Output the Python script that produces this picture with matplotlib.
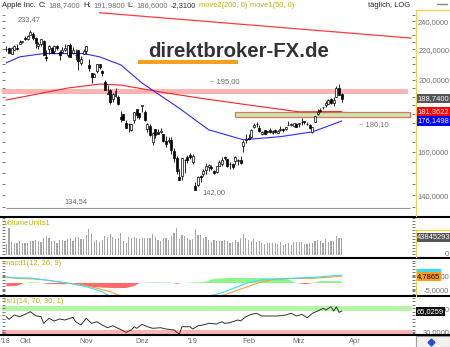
import numpy as np
import matplotlib
matplotlib.use('Agg')
import matplotlib.pyplot as plt
from matplotlib.lines import Line2D
from matplotlib.patches import Rectangle
from matplotlib.ticker import FixedLocator, NullFormatter, FuncFormatter

plt.rcParams['font.family'] = ['Liberation Sans', 'DejaVu Sans']

# daily bars, 20.09.2018 .. 25.03.2019
opens = [220.24, 220.78, 216.82, 219.75, 221.00, 223.82, 224.79, 227.95, 227.25, 230.05,
         230.78, 227.96, 222.21, 223.64, 225.46, 214.52, 220.42, 221.16, 218.93, 222.30,
         217.86, 218.06, 219.79, 215.83, 222.60, 217.71, 215.90, 219.19, 211.15, 216.88,
         219.05, 209.55, 204.30, 201.92, 205.97, 209.98, 205.55, 199.00, 191.63, 193.90,
         188.39, 190.50, 190.00, 178.37, 179.73, 174.94, 174.24, 171.51, 176.73, 182.66,
         180.29, 184.46, 180.95, 171.76, 173.49, 165.00, 171.66, 170.40, 170.49, 169.00,
         165.45, 165.38, 166.00, 160.40, 156.86, 148.15, 148.30, 155.84, 157.50, 158.53,
         154.89, 143.98, 144.53, 148.70, 149.56, 151.29, 152.50, 152.88, 150.85, 150.27,
         153.08, 154.20, 157.50, 156.41, 154.15, 154.11, 155.48, 155.79, 156.25, 163.25,
         166.11, 166.96, 167.41, 172.86, 174.65, 172.40, 168.99, 171.05, 170.10, 171.39,
         169.71, 171.25, 169.71, 171.19, 171.80, 171.58, 174.16, 173.71, 173.21, 174.32,
         174.28, 175.69, 175.94, 174.67, 173.87, 170.32, 175.49, 180.00, 182.25, 183.90,
         184.85, 185.80, 188.35, 186.23, 190.02, 195.34, 191.51]
highs = [222.28, 221.36, 221.26, 222.82, 223.75, 226.44, 225.84, 229.42, 230.00, 233.47,
         232.35, 228.41, 224.80, 227.27, 226.35, 219.50, 222.88, 221.83, 222.99, 222.64,
         219.74, 221.26, 223.36, 223.25, 224.23, 221.38, 220.19, 219.69, 215.18, 220.45,
         222.36, 213.65, 204.39, 204.72, 210.06, 210.12, 206.01, 199.85, 197.18, 194.48,
         191.97, 194.97, 190.70, 181.47, 180.27, 176.60, 174.95, 174.77, 181.29, 182.80,
         180.33, 184.94, 182.39, 174.78, 174.49, 170.09, 171.79, 171.92, 172.57, 169.08,
         168.35, 167.53, 167.45, 162.11, 158.16, 151.55, 157.23, 156.77, 158.52, 159.36,
         158.85, 145.72, 148.55, 148.83, 151.82, 154.53, 153.97, 153.70, 151.27, 153.39,
         155.88, 157.66, 157.88, 156.73, 155.14, 154.48, 158.13, 156.33, 158.13, 166.15,
         169.00, 168.98, 171.66, 175.08, 175.57, 173.94, 170.66, 171.21, 171.00, 172.48,
         171.26, 171.70, 171.44, 173.32, 172.37, 173.00, 175.87, 175.30, 175.00, 174.91,
         175.15, 177.75, 176.00, 175.49, 174.44, 173.07, 179.12, 182.67, 183.30, 184.10,
         187.33, 188.39, 188.99, 189.49, 196.33, 197.69, 191.98]
lows = [219.15, 217.29, 216.63, 219.70, 219.76, 223.54, 224.02, 226.35, 226.63, 229.78,
        226.73, 220.58, 220.20, 222.25, 216.05, 212.32, 216.84, 217.27, 216.76, 219.34,
        213.00, 217.43, 218.94, 214.70, 214.54, 216.75, 212.67, 206.09, 209.27, 216.62,
        216.81, 205.43, 198.17, 201.69, 204.13, 206.75, 202.25, 193.79, 191.45, 185.93,
        186.90, 189.46, 184.99, 175.51, 176.55, 172.10, 170.26, 170.88, 174.93, 177.70,
        177.03, 181.21, 176.27, 170.42, 168.30, 163.33, 167.00, 169.02, 169.55, 165.28,
        162.73, 164.39, 159.09, 155.30, 149.63, 146.59, 146.72, 150.07, 154.55, 156.48,
        154.23, 142.00, 143.80, 145.90, 148.52, 149.63, 150.86, 151.51, 149.22, 150.05,
        153.00, 153.26, 155.98, 152.62, 151.70, 151.74, 154.32, 153.66, 154.11, 160.23,
        164.56, 165.93, 167.28, 172.35, 172.85, 170.34, 168.42, 169.25, 169.70, 169.92,
        169.38, 169.75, 169.49, 170.99, 170.30, 171.38, 173.95, 173.17, 172.73, 172.92,
        172.89, 173.97, 174.54, 173.94, 172.02, 169.50, 175.35, 179.37, 180.92, 182.56,
        183.74, 185.79, 185.92, 184.73, 189.81, 190.78, 186.60]
closes = [220.03, 217.66, 220.79, 222.19, 220.42, 224.95, 225.74, 227.26, 229.28, 232.07,
          227.99, 224.29, 223.77, 226.87, 216.36, 214.45, 222.11, 217.36, 222.15, 221.19,
          216.02, 219.31, 220.65, 222.73, 215.09, 219.80, 216.30, 212.24, 213.30, 218.86,
          222.22, 207.48, 201.59, 203.77, 209.95, 208.49, 204.47, 194.17, 192.23, 186.80,
          191.41, 193.53, 185.86, 176.98, 176.78, 172.29, 174.62, 174.24, 180.94, 179.55,
          178.58, 184.82, 176.69, 174.72, 168.49, 169.60, 168.63, 169.10, 170.95, 165.48,
          163.94, 166.07, 160.89, 156.83, 150.73, 146.83, 157.17, 156.15, 156.23, 157.74,
          157.92, 142.19, 148.26, 147.93, 150.75, 153.31, 153.80, 152.29, 150.00, 153.07,
          154.94, 155.86, 156.82, 153.30, 153.92, 152.70, 157.76, 156.30, 154.68, 165.25,
          166.44, 166.52, 171.25, 174.18, 174.24, 170.94, 170.41, 169.43, 170.89, 170.18,
          170.80, 170.42, 170.93, 172.03, 171.06, 172.97, 174.23, 174.33, 174.87, 173.15,
          174.97, 175.85, 175.53, 174.52, 172.50, 172.91, 178.90, 180.91, 181.71, 183.73,
          186.12, 188.02, 186.53, 188.16, 195.09, 191.05, 188.74]
# volume in millions of shares
volumes = [20.3, 96.2, 27.7, 24.6, 23.9, 30.2, 22.9, 23.6, 24.8, 28.6,
           32.0, 33.6, 29.7, 26.9, 41.1, 53.1, 40.3, 30.3, 29.2, 22.9,
           32.6, 33.0, 28.8, 38.7, 40.9, 29.9, 47.3, 45.9, 36.7, 38.4,
           58.3, 91.3, 66.2, 31.9, 33.4, 25.4, 34.4, 51.1, 46.9, 60.8,
           46.5, 36.2, 41.9, 67.8, 31.1, 23.6, 44.9, 41.4, 46.1, 41.8,
           39.5, 40.8, 41.3, 43.1, 42.3, 62.0, 47.3, 35.6, 31.9, 40.7,
           44.3, 33.8, 49.0, 64.8, 95.7, 37.2, 58.6, 53.1, 42.3, 35.0,
           37.0, 91.3, 58.6, 54.8, 41.0, 45.1, 35.8, 27.0, 32.4, 28.7,
           30.6, 29.8, 33.1, 30.4, 23.1, 25.4, 33.5, 26.2, 41.6, 61.1,
           40.7, 32.7, 31.5, 36.1, 28.2, 31.7, 23.8, 20.5, 22.3, 22.5,
           21.8, 24.6, 19.0, 26.1, 17.2, 18.9, 21.9, 17.1, 27.8, 28.2,
           25.9, 27.4, 19.7, 20.8, 24.8, 23.9, 32.0, 32.5, 31.0, 23.6,
           39.0, 26.2, 31.6, 31.0, 51.0, 42.4, 43.845293]

# moving averages (bar index, value)
ma200_idx = [0, 10, 23, 35, 43, 58, 73, 92, 110, 126]
ma200_val = [188.0, 191.0, 195.1, 197.5, 196.9, 192.7, 189.0, 184.9, 181.2, 181.3622]
ma50_idx = [0, 5, 14, 29, 35, 43, 51, 65, 76, 89, 103, 115, 122, 126]
ma50_val = [211.0, 214.9, 217.1, 217.1, 214.9, 209.6, 198.1, 183.2, 171.4, 166.2,
            167.8, 170.3, 174.0, 176.1498]

# drawn objects
trend_idx = [35, 152]
trend_val = [246.4, 227.8]
resist_band = (191.8, 194.6)
support_band = (178.5, 181.3)
support_start = 86
low_line = 134.54

# macd1(12, 26, 9)
macd_idx = [0, 9, 23, 30, 36, 38, 45, 55, 65, 72, 79, 82, 87, 92, 97, 107, 115, 126]
macd_val = [3.8, 3.6, 0.0, -2.6, -6.2, -8.6, -12.0, -14.0, -13.0, -11.0, -8.1, -6.2,
            -2.6, 0.9, 2.5, 3.4, 4.0, 5.6]
sig_idx = [0, 3, 10, 15, 23, 30, 39, 42, 52, 62, 72, 80, 84, 90, 96, 100, 107, 115, 126]
sig_val = [4.5, 3.4, 2.9, 2.1, -0.2, -1.9, -6.2, -8.6, -12.0, -13.0, -12.0, -10.0, -7.0,
           -3.0, 1.0, 2.4, 3.2, 3.3, 4.7865]
hist_idx = [0, 4, 6, 8, 11, 13, 16, 22, 25, 29, 33, 40, 45, 48, 50, 55, 62, 64, 66, 72,
            75, 78, 84, 92, 100, 106, 109, 112, 114, 115, 118, 125, 126]
hist_val = [-2.4, -2.0, -0.5, 0.4, 0.5, 0.0, -0.7, -0.9, -0.3, -1.8, -3.0, -3.6, -3.6,
            -2.2, 0.0, 0.4, 0.3, -0.6, 0.0, 0.4, 1.0, 3.0, 3.6, 3.6, 3.3, 2.5, 0.0, -0.8,
            -0.5, 0.0, 1.4, 1.4, 1.0]

# rsi1(14, 70, 30, 1)
rsi_idx = [0, 1, 3, 5, 7, 9, 11, 13, 14, 16, 18, 20, 22, 25, 26, 28, 30, 32, 34, 36,
           38, 40, 42, 45, 47, 48, 49, 51, 53, 55, 58, 60, 63, 64, 65, 66, 69, 70, 72, 74,
           76, 79, 81, 82, 84, 85, 87, 88, 90, 92, 94, 96, 98, 102, 105, 107, 109, 111, 113, 115,
           117, 119, 120, 122, 123, 124, 125, 126]
rsi_val = [55.7, 51.3, 58.6, 55.7, 59.7, 64.1, 57.4, 55.7, 44.6, 53.0, 48.5, 51.8, 50.2,
           54.7, 47.3, 41.8, 53.0, 44.6, 47.3, 41.8, 37.2, 40.6, 36.2, 29.5, 33.4, 38.9,
           36.2, 42.9, 38.9, 36.2, 37.2, 35.0, 33.4, 29.5, 26.6, 38.9, 38.9, 35.0, 40.6,
           41.8, 44.6, 43.4, 47.3, 44.6, 45.6, 47.3, 50.2, 48.5, 55.7, 59.7, 61.4, 56.9,
           56.9, 56.9, 58.6, 61.4, 56.9, 59.7, 54.0, 61.4, 65.3, 69.8, 67.0, 72.5, 65.3,
           72.5, 63.1, 65.0259]

month_pos = [-0.5, 7, 30, 51, 70, 91, 110, 131]
month_lbl = ["'18", 'Okt', 'Nov', 'Dez', "'19", 'Feb', 'Mrz', 'Apr']
price_ticks = [140, 160, 180, 200, 220, 240]

W, H = 450, 347
L, R = 2, 415
FS = 5.4
GRAY = '#707070'
OLIVE = '#bdb500'


def de(v, nd=4):
    return f'{v:.{nd}f}'.replace('.', ',')


def fx(px):
    return px / W


def fy(py):
    return 1 - py / H


fig = plt.figure(figsize=(4.5, 3.47), dpi=100)


def panel(top, bottom):
    ax = fig.add_axes([L / W, 1 - bottom / H, (R - L) / W, (bottom - top) / H])
    ax.set_xlim((L - 6.4) / 2.661, (R - 6.4) / 2.661)
    for s in ax.spines.values():
        s.set_visible(False)
    ax.tick_params(axis='x', length=0, labelbottom=False)
    ax.tick_params(axis='y', which='both', left=True, right=True, direction='in',
                   length=2, width=0.6, color='#606060', labelleft=False,
                   labelright=True, labelsize=FS, labelcolor=GRAY, pad=24.6)
    return ax


def right_labels(ax, hidden=()):
    # 180 sits fully behind the value boxes in the original
    ax.yaxis.set_major_formatter(FuncFormatter(lambda v, p: '' if v in hidden else de(v)))
    for t in ax.yaxis.get_major_ticks():
        t.label2.set_horizontalalignment('right')


def vbox(ax, val, text, fc, tc='white', dy=0):
    return ax.annotate(text, xy=(1, val), xycoords=('axes fraction', 'data'),
                       xytext=(1.4, dy), textcoords='offset points', ha='left', va='center',
                       fontsize=FS, color=tc, annotation_clip=False, zorder=10,
                       bbox=dict(boxstyle='square,pad=0.15', fc=fc, ec='none'))


def label(ax, text, yf):
    ax.text(0.004, yf, text, transform=ax.transAxes, fontsize=FS, color=OLIVE,
            ha='left', va='center', zorder=6)


x = np.arange(len(closes))
o, h, lo, c = map(np.array, (opens, highs, lows, closes))
up = c >= o

# ---- price panel
ax = panel(10, 216)
ax.set_yscale('log')
ax.set_ylim(131.2, 248.5)
ax.yaxis.set_major_locator(FixedLocator(price_ticks))
ax.yaxis.set_minor_locator(FixedLocator(np.arange(135, 250, 5)))
ax.yaxis.set_minor_formatter(NullFormatter())
right_labels(ax, hidden=(180,))

ax.text((148 - L) / (R - L), (216 - 57) / (216 - 10), 'direktbroker-FX.de',
        transform=ax.transAxes, fontsize=14.7, weight='bold', color='#333333',
        ha='left', va='baseline', zorder=0.5)
ax.add_patch(Rectangle(((138 - L) / (R - L), (216 - 63.5) / 206), 100 / (R - L), 3.5 / 206,
                       transform=ax.transAxes, fc='#f5a020', ec='none', zorder=0.5))

ax.axhspan(*resist_band, xmin=0, xmax=(408 - L) / (R - L), color='#ffb3b3', lw=0, zorder=1)
ax.add_patch(Rectangle((support_start, support_band[0]), 151.5 - support_start,
                       support_band[1] - support_band[0], fc='#bdf0a8', ec='#f06a6a',
                       lw=0.9, zorder=1.2))
ax.hlines(low_line, 0, 151.5, color='#9a9a9a', lw=0.8, zorder=1)
ax.plot(trend_idx, trend_val, color='#ff3b3b', lw=0.9, zorder=2)
ax.plot(ma200_idx, ma200_val, color='#ff2020', lw=0.8, zorder=2.5)
ax.plot(ma50_idx, ma50_val, color='#2a2aff', lw=0.8, zorder=2.5)

ax.vlines(x, lo, h, color='black', lw=0.6, zorder=3)
ax.bar(x[up], (c - o)[up], bottom=o[up], width=0.75, color='white', edgecolor='black',
       lw=0.5, zorder=4)
ax.bar(x[~up], (o - c)[~up], bottom=c[~up], width=0.75, color='black', edgecolor='black',
       lw=0.5, zorder=4)

ann = dict(fontsize=FS, color=GRAY, textcoords='offset points', zorder=6)
hi_i = int(np.argmax(h))
lo_i = int(np.argmin(lo))
ax.annotate(de(h[hi_i], 2), xy=(hi_i, h[hi_i]), xytext=(-1, 5), ha='center', va='bottom', **ann)
ax.annotate(de(lo[lo_i], 2), xy=(lo_i, lo[lo_i]), xytext=(5, -1.5), ha='left', va='center', **ann)
ax.annotate(de(low_line, 2), xy=(26, low_line), xytext=(0, 2), ha='center', va='bottom', **ann)
ax.annotate('~ ' + de(195.0, 2), xy=(82, resist_band[1]), xytext=(0, 2.5), ha='center',
            va='bottom', **ann)
ax.annotate('~ ' + de(180.1, 2), xy=(138, support_band[0]), xytext=(0, -3), ha='center',
            va='top', **ann)

vbox(ax, c[-1], de(c[-1]), '#555555')
vbox(ax, ma200_val[-1], de(ma200_val[-1]), '#ff0000')
vbox(ax, ma50_val[-1], de(ma50_val[-1]), '#0000ff')

# ---- volume panel
axv = panel(217, 257.5)
axv.set_yscale('function', functions=(lambda v: np.sqrt(np.clip(v, 0, None)),
                                       lambda s: np.square(s)))
axv.set_ylim(0, 182)
axv.yaxis.set_major_locator(FixedLocator([0]))
axv.yaxis.set_minor_locator(FixedLocator(np.arange(1, 14) ** 2))
axv.yaxis.set_minor_formatter(NullFormatter())
axv.yaxis.set_major_formatter(FuncFormatter(lambda v, p: '0'))
for t in axv.yaxis.get_major_ticks():
    t.label2.set_horizontalalignment('right')
    t.label2.set_verticalalignment('bottom')
vol = np.array(volumes)
axv.bar(x, vol - 0.75, bottom=0.75, width=0.45, color='#a6a6a6', lw=0, zorder=2)
label(axv, 'VolumeUnits1', 0.85)
vbox(axv, vol[-1], f'{vol[-1] * 1e6:.0f}', '#555555')

# ---- macd panel
axm = panel(258, 296)
axm.set_ylim(-9.29, 17.86)
axm.yaxis.set_major_locator(FixedLocator([-5, 5]))
axm.yaxis.set_minor_locator(FixedLocator(np.arange(-8, 18, 2)))
axm.yaxis.set_minor_formatter(NullFormatter())
right_labels(axm)
hi_ = np.array(hist_val)
axm.fill_between(hist_idx, 0, hi_, where=hi_ >= 0, interpolate=True, color='#8cf58c', lw=0, zorder=1)
axm.fill_between(hist_idx, 0, hi_, where=hi_ <= 0, interpolate=True, color='#ff6b6b', lw=0, zorder=1)
axm.plot(sig_idx, sig_val, color='#ffa030', lw=0.8, zorder=2)
axm.plot(macd_idx, macd_val, color='#35dcff', lw=0.8, zorder=2)
label(axm, 'macd1(12, 26, 9)', 0.86)
sig_box = vbox(axm, sig_val[-1], de(sig_val[-1]), '#ff9a1a', tc='black')

# ---- rsi panel
axr = panel(296.5, 334.5)
axr.set_ylim(25.8, 89.7)
axr.yaxis.set_major_locator(FixedLocator([30, 70]))
axr.yaxis.set_minor_locator(FixedLocator(np.arange(28, 90, 6)))
axr.yaxis.set_minor_formatter(NullFormatter())
right_labels(axr)
axr.axhspan(65.8, 74.2, xmin=0, xmax=(412 - L) / (R - L), color='#b4f5a8', lw=0, zorder=1)
axr.axhspan(26.0, 34.0, xmin=0, xmax=(412 - L) / (R - L), color='#ffb4b4', lw=0, zorder=1)
axr.plot(rsi_idx, rsi_val, color='#303030', lw=0.7, zorder=2)
label(axr, 'rsi1(14, 70, 30, 1)', 0.88)
vbox(axr, rsi_val[-1], de(rsi_val[-1]), '#111111')
axr.set_xticks(month_pos, month_lbl)
axr.tick_params(axis='x', labelbottom=True, length=0, pad=2.6, labelsize=FS, labelcolor=GRAY)

# ---- frame lines
for py in (216.8, 257.8, 296.3, 334.8):
    fig.add_artist(Line2D([0, 1], [fy(py)] * 2, color='black', lw=1.5))
yel = '#f2d24a'
fig.add_artist(Line2D([fx(415.5), 1], [fy(10)] * 2, color=yel, lw=1))
fig.add_artist(Line2D([fx(416)] * 2, [fy(10), fy(216)], color=yel, lw=0.8))
fig.add_artist(Line2D([fx(415.5), 1], [fy(229.5)] * 2, color=yel, lw=1))
fig.add_artist(Line2D([fx(416)] * 2, [fy(229.5), fy(257)], color=yel, lw=0.8))
fig.add_artist(Line2D([fx(416)] * 2, [fy(269), fy(296)], color=yel, lw=0.8))
fig.add_artist(Line2D([fx(437), fx(447)], [fy(3.5)] * 2, color='#888888', lw=1))
fig.add_artist(Rectangle((fx(415.5), fy(347)), fx(34), 11.5 / H, transform=fig.transFigure,
                         fc='#f2f2f2', ec='#a0a0a0', lw=0.8))
fig.add_artist(Line2D([fx(431)], [fy(342)], marker='D', ms=3.5, color='#1f4fd8',
                      transform=fig.transFigure))

# ---- header
renderer = fig.canvas.get_renderer()


def text_row(px, py, parts):
    for s, col in parts:
        t = fig.text(fx(px), fy(py), s, color=col, fontsize=FS, va='center', ha='left')
        px = t.get_window_extent(renderer).x1 + 2.7


DARK = '#222222'
text_row(2, 5.5, [('Apple Inc.', DARK), ('C:', DARK), (de(c[-1]), GRAY), ('H:', DARK),
                  (de(h[-1]), GRAY), ('L:', DARK), (de(lo[-1]), GRAY),
                  (de(c[-1] - c[-2]), DARK), ('move2(200, 0)', OLIVE), ('move1(50, 0)', OLIVE)])
fig.text(fx(410), fy(5.5), 'täglich, LOG', color=DARK, fontsize=FS, va='center', ha='right')

# macd value box lies behind the signal box; only its top edge shows
fig.canvas.draw()
bb = sig_box.get_bbox_patch().get_window_extent(renderer)
strip = Rectangle((bb.x0 / W, (bb.y1 - 0.5) / H), bb.width / W, 3 / H,
                  transform=fig.transFigure, fc='#35dcff', ec='none')
fig.add_artist(strip)

fig.savefig('out.png', dpi=100)
